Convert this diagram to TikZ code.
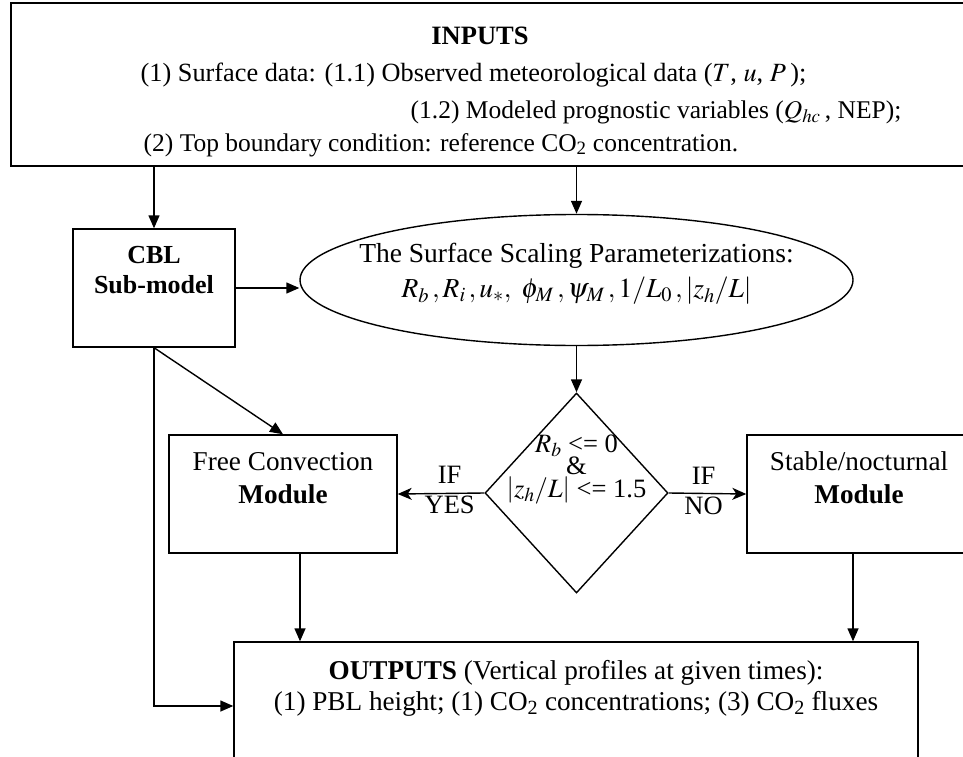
\documentclass[tikz,border=0pt]{standalone}
\usepackage{mathptmx}
\usepackage{fontspec}
\setmainfont{Liberation Serif}
\usetikzlibrary{shapes.geometric,positioning,arrows.meta}

\begin{document}
\begin{tikzpicture}[x=1pt,y=-1pt,
    line width=1.4pt,
    font=\fontsize{27.2}{33}\selectfont,
    box/.style={draw,rectangle,inner sep=0pt},
    txt/.style={inner sep=0pt,align=center},
    line/.style={inner sep=0pt,font=\fontsize{25.5}{33}\selectfont},
    arr/.style={-{Triangle[length=13pt,width=11pt]}},
    ifarr/.style={-{Stealth[length=14pt,width=12pt,inset=4pt]}}]
\useasboundingbox (0,0) rectangle (963,757);

% inputs
\node[box,minimum width=959pt,minimum height=163pt] (inputs) at (490.5,84.5) {};
\node[line,font=\bfseries\fontsize{26.5}{33}\selectfont,anchor=base] (intitle) at (480,45) {INPUTS};
\node[line,font=\fontsize{26.3}{33}\selectfont,anchor=base west] (inone) at (140,82)
    {(1) Surface data: (1.1) Observed meteorological data ($T$, $u$, $P$\,);};
\node[line,anchor=base west] (intwo) at (410,118) {(1.2) Modeled prognostic variables ($Q_{hc}$\,, NEP);};
\node[line,anchor=base west] (inthree) at (143,151) {(2) Top boundary condition: reference CO\textsubscript{2} concentration.};

% sub-model and parameterizations
\node[box,minimum width=162pt,minimum height=118pt] (cbl) at (154,288) {};
\node[txt,font=\bfseries\fontsize{26}{30}\selectfont,below=17pt of cbl.north] (cbltext) {CBL\\Sub-model};
\node[draw,ellipse,inner sep=0pt,minimum width=553pt,minimum height=131pt] (ssp) at (576.5,280) {};
\node[txt,font=\fontsize{27.5}{35}\selectfont] (ssptext) at ([yshift=6pt]ssp.center)
    {The Surface Scaling Parameterizations:\\
     $R_b\,,R_i\,,u_*,\ \phi_M\,,\psi_M\,,1/L_0\,,\left|z_h/L\right|$};

% test
\node[draw,diamond,inner sep=0pt,minimum width=183pt,minimum height=200pt] (test) at (576.5,493) {};
\node[txt,font=\fontsize{26.5}{22.5}\selectfont] (testtext) at ([yshift=24pt]test.center)
    {$R_b$ <= 0\\\&\\$\left|z_h/L\right|$ <= 1.5};

% modules
\node[box,minimum width=228pt,minimum height=118pt] (fcm) at (283,494) {};
\node[txt,below=17pt of fcm.north] (fcmtext) {Free Convection\\\textbf{Module}};
\node[box,minimum width=224pt,minimum height=118pt] (snm) at (859,494) {};
\node[txt,below=17pt of snm.north] (snmtext) {Stable/nocturnal\\\textbf{Module}};

% outputs
\node[box,minimum width=684pt,minimum height=128pt] (outputs) at (576,706) {};
\node[txt,font=\fontsize{27.2}{31}\selectfont,below=18pt of outputs.north] (outtext)
    {\textbf{OUTPUTS} (Vertical profiles at given times):\\
     (1) PBL height; (1) CO\textsubscript{2} concentrations; (3) CO\textsubscript{2} fluxes};

\coordinate (fcmout) at ([xshift=17pt]fcm.south);
\coordinate (snmout) at ([xshift=-6pt]snm.south);

% connectors
\draw[arr] (inputs.south -| cbl.north) -- (cbl.north);
\draw[arr] (inputs.south -| ssp.north) -- (ssp.north);
\draw[arr] (cbl.east) -- (cbl.east -| ssp.west);
\draw[arr] (ssp.south) -- (test.north);
\draw[ifarr] (test.west) -- node[txt,pos=0.4,yshift=3pt,font=\fontsize{26.5}{30}\selectfont] (ifyes) {IF\\YES} (fcm.east);
\draw[ifarr] (test.east) -- node[txt,pos=0.45,yshift=3pt,font=\fontsize{26.5}{30}\selectfont] (ifno) {IF\\NO} (snm.west);
\draw[arr] (cbl.south) -- (fcm.north);
\draw[arr] (cbl.south) |- (outputs.west);
\draw[arr] (fcmout) -- (fcmout |- outputs.north);
\draw[arr] (snmout) -- (snmout |- outputs.north);
\end{tikzpicture}
\end{document}
